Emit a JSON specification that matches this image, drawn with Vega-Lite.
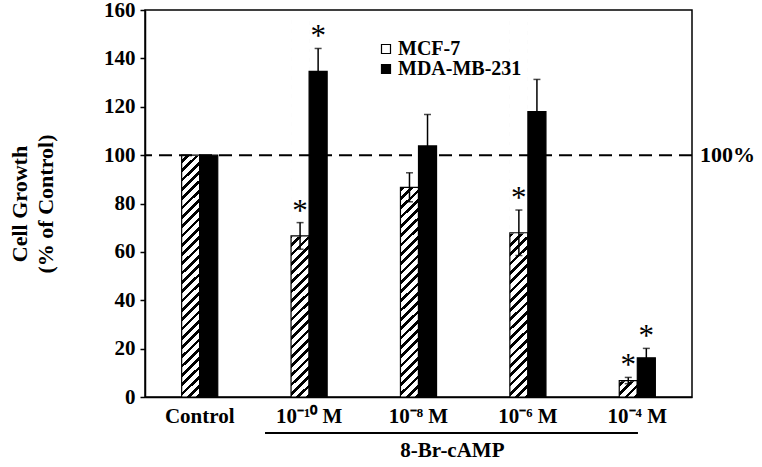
{
  "$schema": "https://vega.github.io/schema/vega-lite/v6.json",
  "width": 547,
  "height": 387,
  "autosize": "none",
  "padding": {"left": 145, "top": 10, "right": 70, "bottom": 70},
  "background": "white",
  "config": {
    "view": {"stroke": "#000", "strokeWidth": 1.5},
    "axis": {
      "labelFont": "Liberation Serif", "labelFontWeight": "bold", "labelColor": "#000",
      "titleFont": "Liberation Serif", "titleFontWeight": "bold", "titleColor": "#000",
      "domainColor": "#000", "domainWidth": 1.5, "tickColor": "#000", "tickWidth": 1.5, "grid": false
    },
    "text": {"font": "Liberation Serif", "color": "#000"}
  },
  "data": {"values": [
    {"dose": "Control", "series": "MCF-7", "value": 100, "lower": null, "upper": null, "sig": ""},
    {"dose": "Control", "series": "MDA-MB-231", "value": 100, "lower": null, "upper": null, "sig": ""},
    {"dose": "10⁻¹⁰ M", "series": "MCF-7", "value": 66.6, "lower": 61.1, "upper": 72.1, "sig": "*"},
    {"dose": "10⁻¹⁰ M", "series": "MDA-MB-231", "value": 134.6, "lower": 125.1, "upper": 144.1, "sig": "*"},
    {"dose": "10⁻⁸ M", "series": "MCF-7", "value": 86.7, "lower": 80.7, "upper": 92.7, "sig": ""},
    {"dose": "10⁻⁸ M", "series": "MDA-MB-231", "value": 103.8, "lower": 90.8, "upper": 116.8, "sig": ""},
    {"dose": "10⁻⁶ M", "series": "MCF-7", "value": 67.9, "lower": 58.5, "upper": 77.3, "sig": "*"},
    {"dose": "10⁻⁶ M", "series": "MDA-MB-231", "value": 118.0, "lower": 104.7, "upper": 131.3, "sig": ""},
    {"dose": "10⁻⁴ M", "series": "MCF-7", "value": 6.8, "lower": 5.5, "upper": 8.1, "sig": "*"},
    {"dose": "10⁻⁴ M", "series": "MDA-MB-231", "value": 16.2, "lower": 12.3, "upper": 20.1, "sig": "*"}
  ]},
  "resolve": {"scale": {"x": "independent"}, "axis": {"y": "independent"}},
  "layer": [
    {
      "layer": [
        {
          "transform": [{"filter": "datum.series === 'MCF-7'"}],
          "mark": {"type": "bar", "strokeWidth": 0, "fill": {"gradient": "linear", "x1": 0, "y1": 0, "x2": 0.04871, "y2": 1.04437, "stops": [
            {"offset": 0, "color": "#fff"},
            {"offset": 0.0140, "color": "#fff"}, {"offset": 0.0140, "color": "#000"}, {"offset": 0.0233, "color": "#000"}, {"offset": 0.0233, "color": "#fff"},
            {"offset": 0.0372, "color": "#fff"}, {"offset": 0.0372, "color": "#000"}, {"offset": 0.0465, "color": "#000"}, {"offset": 0.0465, "color": "#fff"},
            {"offset": 0.0605, "color": "#fff"}, {"offset": 0.0605, "color": "#000"}, {"offset": 0.0698, "color": "#000"}, {"offset": 0.0698, "color": "#fff"},
            {"offset": 0.0837, "color": "#fff"}, {"offset": 0.0837, "color": "#000"}, {"offset": 0.0930, "color": "#000"}, {"offset": 0.0930, "color": "#fff"},
            {"offset": 0.1070, "color": "#fff"}, {"offset": 0.1070, "color": "#000"}, {"offset": 0.1163, "color": "#000"}, {"offset": 0.1163, "color": "#fff"},
            {"offset": 0.1302, "color": "#fff"}, {"offset": 0.1302, "color": "#000"}, {"offset": 0.1395, "color": "#000"}, {"offset": 0.1395, "color": "#fff"},
            {"offset": 0.1535, "color": "#fff"}, {"offset": 0.1535, "color": "#000"}, {"offset": 0.1628, "color": "#000"}, {"offset": 0.1628, "color": "#fff"},
            {"offset": 0.1767, "color": "#fff"}, {"offset": 0.1767, "color": "#000"}, {"offset": 0.1860, "color": "#000"}, {"offset": 0.1860, "color": "#fff"},
            {"offset": 0.2000, "color": "#fff"}, {"offset": 0.2000, "color": "#000"}, {"offset": 0.2093, "color": "#000"}, {"offset": 0.2093, "color": "#fff"},
            {"offset": 0.2233, "color": "#fff"}, {"offset": 0.2233, "color": "#000"}, {"offset": 0.2326, "color": "#000"}, {"offset": 0.2326, "color": "#fff"},
            {"offset": 0.2465, "color": "#fff"}, {"offset": 0.2465, "color": "#000"}, {"offset": 0.2558, "color": "#000"}, {"offset": 0.2558, "color": "#fff"},
            {"offset": 0.2698, "color": "#fff"}, {"offset": 0.2698, "color": "#000"}, {"offset": 0.2791, "color": "#000"}, {"offset": 0.2791, "color": "#fff"},
            {"offset": 0.2930, "color": "#fff"}, {"offset": 0.2930, "color": "#000"}, {"offset": 0.3023, "color": "#000"}, {"offset": 0.3023, "color": "#fff"},
            {"offset": 0.3163, "color": "#fff"}, {"offset": 0.3163, "color": "#000"}, {"offset": 0.3256, "color": "#000"}, {"offset": 0.3256, "color": "#fff"},
            {"offset": 0.3395, "color": "#fff"}, {"offset": 0.3395, "color": "#000"}, {"offset": 0.3488, "color": "#000"}, {"offset": 0.3488, "color": "#fff"},
            {"offset": 0.3628, "color": "#fff"}, {"offset": 0.3628, "color": "#000"}, {"offset": 0.3721, "color": "#000"}, {"offset": 0.3721, "color": "#fff"},
            {"offset": 0.3860, "color": "#fff"}, {"offset": 0.3860, "color": "#000"}, {"offset": 0.3953, "color": "#000"}, {"offset": 0.3953, "color": "#fff"},
            {"offset": 0.4093, "color": "#fff"}, {"offset": 0.4093, "color": "#000"}, {"offset": 0.4186, "color": "#000"}, {"offset": 0.4186, "color": "#fff"},
            {"offset": 0.4326, "color": "#fff"}, {"offset": 0.4326, "color": "#000"}, {"offset": 0.4419, "color": "#000"}, {"offset": 0.4419, "color": "#fff"},
            {"offset": 0.4558, "color": "#fff"}, {"offset": 0.4558, "color": "#000"}, {"offset": 0.4651, "color": "#000"}, {"offset": 0.4651, "color": "#fff"},
            {"offset": 0.4791, "color": "#fff"}, {"offset": 0.4791, "color": "#000"}, {"offset": 0.4884, "color": "#000"}, {"offset": 0.4884, "color": "#fff"},
            {"offset": 0.5023, "color": "#fff"}, {"offset": 0.5023, "color": "#000"}, {"offset": 0.5116, "color": "#000"}, {"offset": 0.5116, "color": "#fff"},
            {"offset": 0.5256, "color": "#fff"}, {"offset": 0.5256, "color": "#000"}, {"offset": 0.5349, "color": "#000"}, {"offset": 0.5349, "color": "#fff"},
            {"offset": 0.5488, "color": "#fff"}, {"offset": 0.5488, "color": "#000"}, {"offset": 0.5581, "color": "#000"}, {"offset": 0.5581, "color": "#fff"},
            {"offset": 0.5721, "color": "#fff"}, {"offset": 0.5721, "color": "#000"}, {"offset": 0.5814, "color": "#000"}, {"offset": 0.5814, "color": "#fff"},
            {"offset": 0.5953, "color": "#fff"}, {"offset": 0.5953, "color": "#000"}, {"offset": 0.6047, "color": "#000"}, {"offset": 0.6047, "color": "#fff"},
            {"offset": 0.6186, "color": "#fff"}, {"offset": 0.6186, "color": "#000"}, {"offset": 0.6279, "color": "#000"}, {"offset": 0.6279, "color": "#fff"},
            {"offset": 0.6419, "color": "#fff"}, {"offset": 0.6419, "color": "#000"}, {"offset": 0.6512, "color": "#000"}, {"offset": 0.6512, "color": "#fff"},
            {"offset": 0.6651, "color": "#fff"}, {"offset": 0.6651, "color": "#000"}, {"offset": 0.6744, "color": "#000"}, {"offset": 0.6744, "color": "#fff"},
            {"offset": 0.6884, "color": "#fff"}, {"offset": 0.6884, "color": "#000"}, {"offset": 0.6977, "color": "#000"}, {"offset": 0.6977, "color": "#fff"},
            {"offset": 0.7116, "color": "#fff"}, {"offset": 0.7116, "color": "#000"}, {"offset": 0.7209, "color": "#000"}, {"offset": 0.7209, "color": "#fff"},
            {"offset": 0.7349, "color": "#fff"}, {"offset": 0.7349, "color": "#000"}, {"offset": 0.7442, "color": "#000"}, {"offset": 0.7442, "color": "#fff"},
            {"offset": 0.7581, "color": "#fff"}, {"offset": 0.7581, "color": "#000"}, {"offset": 0.7674, "color": "#000"}, {"offset": 0.7674, "color": "#fff"},
            {"offset": 0.7814, "color": "#fff"}, {"offset": 0.7814, "color": "#000"}, {"offset": 0.7907, "color": "#000"}, {"offset": 0.7907, "color": "#fff"},
            {"offset": 0.8047, "color": "#fff"}, {"offset": 0.8047, "color": "#000"}, {"offset": 0.8140, "color": "#000"}, {"offset": 0.8140, "color": "#fff"},
            {"offset": 0.8279, "color": "#fff"}, {"offset": 0.8279, "color": "#000"}, {"offset": 0.8372, "color": "#000"}, {"offset": 0.8372, "color": "#fff"},
            {"offset": 0.8512, "color": "#fff"}, {"offset": 0.8512, "color": "#000"}, {"offset": 0.8605, "color": "#000"}, {"offset": 0.8605, "color": "#fff"},
            {"offset": 0.8744, "color": "#fff"}, {"offset": 0.8744, "color": "#000"}, {"offset": 0.8837, "color": "#000"}, {"offset": 0.8837, "color": "#fff"},
            {"offset": 0.8977, "color": "#fff"}, {"offset": 0.8977, "color": "#000"}, {"offset": 0.9070, "color": "#000"}, {"offset": 0.9070, "color": "#fff"},
            {"offset": 0.9209, "color": "#fff"}, {"offset": 0.9209, "color": "#000"}, {"offset": 0.9302, "color": "#000"}, {"offset": 0.9302, "color": "#fff"},
            {"offset": 0.9442, "color": "#fff"}, {"offset": 0.9442, "color": "#000"}, {"offset": 0.9535, "color": "#000"}, {"offset": 0.9535, "color": "#fff"},
            {"offset": 0.9674, "color": "#fff"}, {"offset": 0.9674, "color": "#000"}, {"offset": 0.9767, "color": "#000"}, {"offset": 0.9767, "color": "#fff"},
            {"offset": 0.9907, "color": "#fff"}, {"offset": 0.9907, "color": "#000"}, {"offset": 1, "color": "#000"}
          ]}},
          "encoding": {
            "x": {"field": "dose", "type": "nominal", "scale": {"domain": ["Control", "10⁻¹⁰ M", "10⁻⁸ M", "10⁻⁶ M", "10⁻⁴ M"], "paddingInner": 0.67, "paddingOuter": 0.335},
                  "axis": {"title": null, "labelAngle": 0, "labelFontSize": 21, "ticks": false, "labelPadding": 8}},
            "xOffset": {"field": "series", "type": "nominal", "scale": {"domain": ["MCF-7", "MDA-MB-231"], "paddingInner": 0, "paddingOuter": 0}},
            "y": {"datum": 158, "type": "quantitative", "scale": {"domain": [0, 160], "nice": false},
                  "axis": {"title": ["Cell Growth", "(% of Control)"], "titleFontSize": 22, "titleLineHeight": 26, "titlePadding": 46, "values": [0, 20, 40, 60, 80, 100, 120, 140, 160], "labelFontSize": 21, "tickSize": 5, "labelPadding": 5}},
            "y2": {"datum": 0}
          }
        },
        {
          "transform": [{"filter": "datum.series === 'MCF-7'"}],
          "mark": {"type": "bar", "fill": "#fff", "stroke": "#fff", "strokeWidth": 1.5},
          "encoding": {
            "x": {"field": "dose", "type": "nominal"},
            "xOffset": {"field": "series", "type": "nominal"},
            "y": {"field": "value", "type": "quantitative", "stack": null, "scale": {"domain": [0, 160]}},
            "y2": {"datum": 158.6}
          }
        },
        {
          "data": {"values": [{}]},
          "mark": {"type": "rule", "stroke": "#000", "strokeWidth": 2, "strokeDash": [13, 7]},
          "encoding": {"y": {"datum": 100, "type": "quantitative", "scale": {"domain": [0, 160]}}}
        },
        {
          "mark": {"type": "bar", "stroke": "#000", "strokeWidth": 1.2},
          "encoding": {
            "x": {"field": "dose", "type": "nominal"},
            "xOffset": {"field": "series", "type": "nominal"},
            "y": {"field": "value", "type": "quantitative", "stack": null, "scale": {"domain": [0, 160]}},
            "fill": {"field": "series", "type": "nominal", "scale": {"domain": ["MCF-7", "MDA-MB-231"], "range": ["transparent", "#000"]},
              "legend": {"title": null, "orient": "none", "legendX": 231, "legendY": 29, "padding": 0, "symbolType": "square", "symbolSize": 81,
                "symbolStrokeColor": "#000", "symbolStrokeWidth": 1.2, "labelFont": "Liberation Serif", "labelFontWeight": "bold", "labelFontSize": 20,
                "labelColor": "#000", "labelOffset": 2, "rowPadding": 0}}
          }
        },
        {
          "transform": [{"filter": "datum.upper != null"}],
          "mark": {"type": "rule", "stroke": "#000", "strokeWidth": 1.5},
          "encoding": {
            "x": {"field": "dose", "type": "nominal"},
            "xOffset": {"field": "series", "type": "nominal"},
            "y": {"field": "lower", "type": "quantitative", "scale": {"domain": [0, 160]}},
            "y2": {"field": "upper"}
          }
        },
        {
          "transform": [{"filter": "datum.upper != null"}],
          "mark": {"type": "tick", "color": "#000", "size": 7, "thickness": 1.5},
          "encoding": {
            "x": {"field": "dose", "type": "nominal"},
            "xOffset": {"field": "series", "type": "nominal"},
            "y": {"field": "upper", "type": "quantitative", "scale": {"domain": [0, 160]}}
          }
        },
        {
          "transform": [{"filter": "datum.upper != null"}],
          "mark": {"type": "tick", "color": "#000", "size": 7, "thickness": 1.5},
          "encoding": {
            "x": {"field": "dose", "type": "nominal"},
            "xOffset": {"field": "series", "type": "nominal"},
            "y": {"field": "lower", "type": "quantitative", "scale": {"domain": [0, 160]}}
          }
        },
        {
          "transform": [{"filter": "datum.sig === '*'"}],
          "mark": {"type": "text", "fontSize": 31, "fontWeight": "normal", "baseline": "middle", "dy": -11},
          "encoding": {
            "x": {"field": "dose", "type": "nominal"},
            "xOffset": {"field": "series", "type": "nominal"},
            "y": {"field": "upper", "type": "quantitative", "scale": {"domain": [0, 160]}},
            "text": {"field": "sig"}
          }
        }
      ]
    },
    {
      "data": {"values": [{}]},
      "layer": [
        {
          "mark": {"type": "rule", "stroke": "#000", "strokeWidth": 2},
          "encoding": {
            "x": {"datum": 1.097, "type": "quantitative", "scale": {"domain": [0, 5], "nice": false}, "axis": null},
            "x2": {"datum": 4.506},
            "y": {"datum": -14.9, "type": "quantitative", "scale": {"domain": [0, 160]}, "axis": null}
          }
        },
        {
          "mark": {"type": "text", "fontSize": 21, "fontWeight": "bold", "align": "center", "baseline": "middle"},
          "encoding": {
            "x": {"datum": 2.81, "type": "quantitative", "axis": null},
            "y": {"datum": -22.3, "type": "quantitative", "axis": null},
            "text": {"value": "8-Br-cAMP"}
          }
        },
        {
          "mark": {"type": "text", "fontSize": 22, "fontWeight": "bold", "align": "left", "baseline": "middle"},
          "encoding": {
            "x": {"datum": 5.073, "type": "quantitative", "axis": null},
            "y": {"datum": 100, "type": "quantitative", "axis": null},
            "text": {"value": "100%"}
          }
        }
      ]
    }
  ]
}
